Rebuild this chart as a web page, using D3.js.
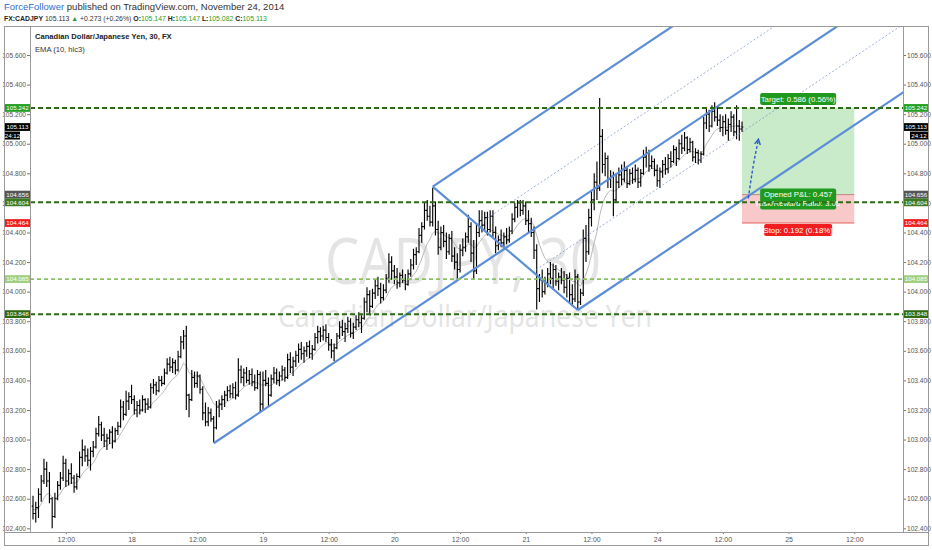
<!DOCTYPE html>
<html><head><meta charset="utf-8">
<script src="https://cdn.jsdelivr.net/npm/d3@7"></script>
<style>
body{margin:0;background:#fff;}
svg{display:block;font-family:"Liberation Sans Narrow","Arial Narrow","Liberation Sans",sans-serif;}
</style></head><body>
<svg id="c" width="932" height="550"></svg>
<script>
// ---------- DATA: 30-minute OHLC bars [open, high, low, close] ----------
const nov17 = [
[102.55,102.62,102.46,102.50],[102.50,102.58,102.44,102.54],[102.54,102.67,102.47,102.63],[102.63,102.76,102.58,102.72],
[102.72,102.87,102.70,102.80],[102.80,102.85,102.68,102.72],[102.72,102.78,102.57,102.60],[102.60,102.61,102.40,102.48],
[102.48,102.64,102.47,102.60],[102.60,102.72,102.59,102.69],[102.69,102.78,102.66,102.74],[102.74,102.89,102.72,102.84],
[102.84,102.87,102.68,102.72],[102.72,102.80,102.69,102.77],[102.77,102.84,102.70,102.74],[102.74,102.76,102.64,102.68],
[102.68,102.77,102.66,102.75],[102.75,102.92,102.74,102.88],[102.88,103.00,102.82,102.93],[102.93,102.96,102.85,102.89],
[102.89,102.94,102.82,102.86],[102.86,102.95,102.79,102.92],[102.92,102.99,102.88,102.95],[102.95,103.08,102.94,103.04],
[103.04,103.16,103.02,103.10],[103.10,103.12,102.99,103.03],[103.03,103.08,102.95,102.99],[102.99,103.04,102.93,103.01],
[103.01,103.07,102.97,103.05],[103.05,103.09,102.94,102.99],[102.99,103.08,102.98,103.06],[103.06,103.12,103.03,103.09],
[103.09,103.27,103.08,103.22],[103.22,103.26,103.13,103.17],[103.17,103.33,103.16,103.26],[103.26,103.32,103.20,103.29]];
const nov18 = [
[103.29,103.37,103.24,103.27],[103.27,103.30,103.17,103.20],[103.20,103.26,103.15,103.23],[103.23,103.27,103.17,103.20],
[103.20,103.30,103.19,103.27],[103.27,103.28,103.18,103.24],[103.24,103.28,103.20,103.22],[103.22,103.38,103.21,103.35],
[103.35,103.41,103.31,103.37],[103.37,103.39,103.30,103.33],[103.33,103.43,103.32,103.40],[103.40,103.43,103.36,103.38],
[103.38,103.48,103.37,103.45],[103.45,103.55,103.44,103.51],[103.51,103.56,103.46,103.49],[103.49,103.55,103.45,103.52],
[103.52,103.54,103.44,103.47],[103.47,103.60,103.46,103.56],[103.56,103.70,103.55,103.66],[103.66,103.74,103.61,103.70],
[103.70,103.77,103.20,103.30],[103.30,103.31,103.15,103.27],[103.27,103.47,103.26,103.42],[103.42,103.46,103.35,103.38],
[103.38,103.46,103.35,103.43],[103.43,103.44,103.31,103.34],[103.34,103.36,103.13,103.18],[103.18,103.25,103.09,103.12],
[103.12,103.22,103.09,103.18],[103.18,103.21,103.12,103.14],[103.14,103.16,102.98,103.08],[103.08,103.26,103.07,103.22],
[103.22,103.27,103.15,103.24],[103.24,103.30,103.20,103.27],[103.27,103.33,103.22,103.30],[103.30,103.36,103.26,103.33],
[103.33,103.37,103.28,103.31],[103.31,103.38,103.28,103.35],[103.35,103.39,103.27,103.30],[103.30,103.55,103.29,103.47],
[103.47,103.50,103.38,103.42],[103.42,103.48,103.36,103.45],[103.45,103.49,103.38,103.40],[103.40,103.47,103.37,103.44],
[103.44,103.48,103.36,103.39],[103.39,103.44,103.33,103.35],[103.35,103.47,103.34,103.44],[103.44,103.46,103.18,103.24]];
const nov19 = [
[103.24,103.46,103.20,103.40],[103.40,103.47,103.36,103.38],[103.38,103.42,103.22,103.30],[103.30,103.44,103.29,103.41],
[103.41,103.49,103.38,103.45],[103.45,103.48,103.37,103.40],[103.40,103.46,103.36,103.43],[103.43,103.50,103.40,103.47],
[103.47,103.49,103.39,103.42],[103.42,103.58,103.41,103.54],[103.54,103.59,103.45,103.49],[103.49,103.56,103.43,103.53],
[103.53,103.60,103.49,103.57],[103.57,103.65,103.52,103.61],[103.61,103.66,103.54,103.58],[103.58,103.63,103.52,103.60],
[103.60,103.66,103.56,103.63],[103.63,103.67,103.55,103.58],[103.58,103.64,103.54,103.61],[103.61,103.72,103.60,103.69],
[103.69,103.77,103.65,103.73],[103.73,103.76,103.66,103.70],[103.70,103.77,103.67,103.74],[103.74,103.78,103.66,103.69],
[103.69,103.72,103.60,103.64],[103.64,103.68,103.55,103.60],[103.60,103.65,103.53,103.62],[103.62,103.72,103.61,103.70],
[103.70,103.80,103.68,103.76],[103.76,103.81,103.70,103.73],[103.73,103.79,103.66,103.75],[103.75,103.83,103.72,103.80],
[103.80,103.82,103.69,103.72],[103.72,103.79,103.68,103.76],[103.76,103.84,103.74,103.81],[103.81,103.86,103.76,103.79],
[103.79,103.84,103.72,103.82],[103.82,103.96,103.81,103.93],[103.93,104.03,103.86,103.98],[103.98,104.01,103.84,103.90],
[103.90,104.02,103.89,103.99],[103.99,104.08,103.95,104.04],[104.04,104.10,103.97,104.02],[104.02,104.06,103.92,103.96],
[103.96,104.05,103.94,104.01],[104.01,104.12,103.99,104.09],[104.09,104.26,104.06,104.20],[104.20,104.24,104.08,104.14]];
const nov20 = [
[104.14,104.18,104.05,104.10],[104.10,104.16,104.02,104.06],[104.06,104.13,104.03,104.11],[104.11,104.15,104.06,104.08],
[104.08,104.12,104.01,104.05],[104.05,104.15,104.04,104.12],[104.12,104.22,104.10,104.18],[104.18,104.29,104.15,104.25],
[104.25,104.30,104.18,104.27],[104.27,104.43,104.26,104.38],[104.38,104.47,104.33,104.44],[104.44,104.60,104.42,104.55],
[104.55,104.62,104.48,104.51],[104.51,104.58,104.44,104.47],[104.47,104.70,104.44,104.58],[104.58,104.61,104.38,104.42],
[104.42,104.48,104.25,104.30],[104.30,104.44,104.28,104.40],[104.40,104.45,104.30,104.34],[104.34,104.40,104.22,104.27],
[104.27,104.39,104.25,104.36],[104.36,104.41,104.20,104.24],[104.24,104.30,104.15,104.20],[104.20,104.26,104.08,104.15],
[104.15,104.32,104.13,104.28],[104.28,104.36,104.24,104.30],[104.30,104.40,104.27,104.37],[104.37,104.52,104.33,104.44],
[104.44,104.47,104.20,104.26],[104.26,104.35,104.08,104.14],[104.14,104.46,104.12,104.40],[104.40,104.55,104.37,104.48],
[104.48,104.55,104.40,104.45],[104.45,104.54,104.41,104.50],[104.50,104.54,104.38,104.42],[104.42,104.55,104.40,104.51],
[104.51,104.55,104.37,104.40],[104.40,104.44,104.26,104.31],[104.31,104.38,104.28,104.35],[104.35,104.42,104.30,104.33],
[104.33,104.40,104.29,104.37],[104.37,104.43,104.32,104.35],[104.35,104.44,104.33,104.41],[104.41,104.53,104.39,104.49],
[104.49,104.60,104.47,104.57],[104.57,104.62,104.50,104.60],[104.60,104.62,104.51,104.55],[104.55,104.62,104.52,104.58]];
const nov21 = [
[104.58,104.61,104.45,104.48],[104.48,104.55,104.40,104.46],[104.46,104.50,104.37,104.40],[104.40,104.44,104.22,104.28],
[104.28,104.32,103.88,104.02],[104.02,104.12,103.93,104.08],[104.08,104.15,103.96,104.00],[104.00,104.10,103.98,104.06],
[104.06,104.16,104.03,104.12],[104.12,104.20,104.05,104.09],[104.09,104.19,104.02,104.15],[104.15,104.18,104.04,104.07],
[104.07,104.13,104.01,104.10],[104.10,104.16,104.05,104.08],[104.08,104.14,103.99,104.03],[104.03,104.12,103.96,104.09],
[104.09,104.13,103.93,103.98],[103.98,104.05,103.90,103.95],[103.95,104.15,103.93,104.10],[104.10,104.12,103.88,103.93],
[103.93,104.02,103.91,103.99],[103.99,104.42,103.97,104.36],[104.36,104.45,104.20,104.27],[104.27,104.56,104.25,104.50],
[104.50,104.68,104.44,104.62],[104.62,104.80,104.55,104.74],[104.74,104.88,104.62,104.70],[104.70,105.31,104.68,105.05],
[105.05,105.10,104.80,104.86],[104.86,104.94,104.78,104.90],[104.90,104.92,104.70,104.76],[104.76,104.82,104.70,104.78],
[104.78,104.81,104.51,104.62],[104.62,104.80,104.60,104.74],[104.74,104.84,104.70,104.79],[104.79,104.86,104.72,104.76],
[104.76,104.88,104.74,104.82],[104.82,104.85,104.70,104.73],[104.73,104.83,104.72,104.80],[104.80,104.84,104.73,104.76],
[104.76,104.86,104.74,104.82],[104.82,104.84,104.70,104.74],[104.74,104.83,104.71,104.80],[104.80,104.96,104.79,104.91],
[104.91,104.98,104.84,104.94],[104.94,104.96,104.81,104.85],[104.85,104.92,104.83,104.88],[104.88,104.90,104.78,104.82]];
const nov24 = [
[104.82,104.86,104.71,104.75],[104.75,104.84,104.70,104.81],[104.81,104.89,104.77,104.86],[104.86,104.91,104.79,104.83],
[104.83,104.93,104.80,104.90],[104.90,104.95,104.84,104.88],[104.88,104.99,104.87,104.96],[104.96,104.98,104.85,104.90],
[104.90,105.03,104.89,105.00],[105.00,105.06,104.93,104.97],[104.97,105.08,104.95,105.04],[105.04,105.05,104.93,104.96],
[104.96,105.04,104.94,105.01],[105.01,105.02,104.88,104.91],[104.91,104.97,104.87,104.94],[104.94,104.96,104.86,104.89],
[104.89,104.95,104.87,104.93],[104.93,105.18,104.92,105.14],[105.14,105.24,105.10,105.20],[105.20,105.23,105.08,105.12],
[105.12,105.26,105.11,105.22],[105.22,105.28,105.15,105.18],[105.18,105.25,105.12,105.16],[105.16,105.20,105.08,105.11],
[105.11,105.19,105.05,105.15],[105.15,105.20,105.06,105.09],[105.09,105.17,105.02,105.13],[105.13,105.22,105.08,105.18],
[105.18,105.20,105.05,105.08],[105.08,105.26,105.03,105.12],[105.12,105.16,105.02,105.10],[105.10,105.15,105.08,105.113]];

const timeTickIdx = [12,36,60,84,108,132,156,180,204,228,252,276,300];
const timeTickLabels = ["12:00","18","12:00","19","12:00","20","12:00","21","12:00","24","12:00","25","12:00"];
const priceTicks = [102.4,102.6,102.8,103.0,103.2,103.4,103.6,103.8,104.0,104.2,104.4,104.6,104.8,105.0,105.2,105.4,105.6];

const levelsDark = [105.242, 104.604, 103.848];
const levelsLight = [104.085];
const markValues = [105.242, 105.113, 104.656, 104.604, 104.464, 104.085, 103.848];
const countdown = "24:12";

const trade = {entry:104.656, target:105.242, stop:104.464, startIdx:259, endIdx:300};
const tradeTexts = ["Target: 0.586 (0.56%)", "Opened P&L: 0.457", "Risk/Reward Ratio: 3.05", "Stop: 0.192 (0.18%)"];
const pitchfork = [[66,102.975],[146,104.71],[199,103.876]];
const forkLevels = [0.382];
const arrowPts = [[261.3,104.63],[263.0,104.84],[265.0,105.03]];

const header1 = ["ForceFollower", " published on TradingView.com, November 24, 2014"];
const header2 = ["FX:CADJPY", " 105.113 ", "\u25B2", " +0.273 (+0.26%) ", "O:", "105.147", " H:", "105.147", " L:", "105.082", " C:", "105.113"];
const legend = ["Canadian Dollar/Japanese Yen, 30, FX", "EMA (10, hlc3)"];
const watermark = ["CADJPY, 30", "Canadian Dollar/Japanese Yen"];

// ---------- BUILD ----------
const bars = [...nov17, ...nov18, ...nov19, ...nov20, ...nov21, ...nov24]
  .map((d,i)=>({i, o:d[0], h:d[1], l:d[2], c:d[3]}));
// EMA(10) of hlc3
const ema = []; { const k = 2/11; let e = null;
  bars.forEach(b=>{ const s=(b.h+b.l+b.c)/3; e = e===null ? s : e + k*(s-e); ema.push({i:b.i, v:e}); }); }

const plot = {l:30, r:903, t:26, b:532};
const x = d3.scaleLinear().domain([-1.1, 317.8]).range([plot.l, plot.r]);
const y = d3.scaleLinear().domain([102.4, 105.6]).range([528.3, 55]);

const svg = d3.select('#c');
svg.append('defs').append('clipPath').attr('id','pc').append('rect')
  .attr('x',plot.l).attr('y',plot.t).attr('width',plot.r-plot.l).attr('height',plot.b-plot.t);
const g = svg.append('g').attr('clip-path','url(#pc)');

// watermark
g.append('text').attr('x',463).attr('y',284).attr('text-anchor','middle').attr('font-size',64)
  .attr('fill','#e4e4e4').attr('textLength',276).attr('lengthAdjust','spacingAndGlyphs')
  .style('font-family','"Open Sans",sans-serif').text(watermark[0]);
g.append('text').attr('x',465).attr('y',327).attr('text-anchor','middle').attr('font-size',31)
  .attr('fill','#e4e4e4').attr('textLength',374).attr('lengthAdjust','spacingAndGlyphs')
  .style('font-family','"Open Sans",sans-serif').text(watermark[1]);

// trade zones
const tx0 = x(trade.startIdx), tx1 = x(trade.endIdx);
g.append('rect').attr('x',tx0).attr('width',tx1-tx0).attr('y',y(trade.target)).attr('height',y(trade.entry)-y(trade.target)).attr('fill','#c9ebc9');
g.append('rect').attr('x',tx0).attr('width',tx1-tx0).attr('y',y(trade.entry)).attr('height',y(trade.stop)-y(trade.entry)).attr('fill','#f9c8c8');
g.append('line').attr('x1',tx0).attr('x2',tx1).attr('y1',y(trade.entry)).attr('y2',y(trade.entry)).attr('stroke','#b07070').attr('stroke-width',0.8);
g.append('line').attr('x1',tx0).attr('x2',tx1).attr('y1',y(trade.stop)).attr('y2',y(trade.stop)).attr('stroke','#e04040').attr('stroke-width',0.8);

// EMA
g.append('path').datum(ema).attr('fill','none').attr('stroke','#a8a8a8').attr('stroke-width',0.8)
  .attr('d', d3.line().x(d=>x(d.i)).y(d=>y(d.v)));

// OHLC bars
g.append('path').attr('fill','none').attr('stroke','#000').attr('stroke-width',1.15)
  .attr('d', bars.map(b=>{ const X=x(b.i); return `M${X},${y(b.h)}V${y(b.l)}M${X-1.3},${y(b.o)}H${X}M${X},${y(b.c)}H${X+1.3}`; }).join(''));

// pitchfork
const P = pitchfork.map(([i,v])=>[x(i), y(v)]);
const M = [(P[1][0]+P[2][0])/2, (P[1][1]+P[2][1])/2];
const dv = [M[0]-P[0][0], M[1]-P[0][1]];
const ext = p=>[p[0]+dv[0]*6, p[1]+dv[1]*6];
const lineGen = d3.line();
[[P[0],ext(P[0])],[P[1],ext(P[1])],[P[2],ext(P[2])],[P[1],P[2]]].forEach(seg=>{
  g.append('path').attr('d',lineGen(seg)).attr('stroke','#5b8ed6').attr('stroke-width',2.2).attr('fill','none');
});
forkLevels.forEach(f=>{
  [P[1],P[2]].forEach(Q=>{
    const S=[M[0]+f*(Q[0]-M[0]), M[1]+f*(Q[1]-M[1])];
    g.append('path').attr('d',lineGen([S,ext(S)])).attr('stroke','#6f8fc9').attr('stroke-width',0.7)
      .attr('stroke-dasharray','2,2').attr('fill','none');
  });
});

// trade labels
function labelBox(cx, cy, w, h, fill, lines){
  g.append('rect').attr('x',cx-w/2).attr('y',cy-h/2).attr('width',w).attr('height',h).attr('rx',2).attr('fill',fill);
  lines.forEach((t,k)=>{
    g.append('text').attr('x',cx).attr('y',cy-h/2+8.8+k*9).attr('text-anchor','middle').attr('font-size',7.8)
      .attr('fill','#fff').text(t);
  });
}
const tcx = (tx0+tx1)/2;
labelBox(tcx, y(trade.target)-9, 76, 12, '#1f9a1f', [tradeTexts[0]]);
labelBox(tcx, y(trade.entry)+4.5, 76, 21, '#1f9a1f', [tradeTexts[1], tradeTexts[2]]);
labelBox(tcx, y(trade.stop)+7, 68, 12, '#f01e1e', [tradeTexts[3]]);

// horizontal levels
levelsDark.forEach(v=>{
  g.append('line').attr('x1',plot.l).attr('x2',plot.r).attr('y1',y(v)).attr('y2',y(v))
    .attr('stroke','#2f6b12').attr('stroke-width',2).attr('stroke-dasharray','5,3');
});
levelsLight.forEach(v=>{
  g.append('line').attr('x1',plot.l).attr('x2',plot.r).attr('y1',y(v)).attr('y2',y(v))
    .attr('stroke','#8bbf66').attr('stroke-width',1.6).attr('stroke-dasharray','4,3');
});

// arrow
const AP = arrowPts.map(([i,v])=>[x(i),y(v)]);
g.append('path').attr('d', d3.line().curve(d3.curveNatural)(AP)).attr('fill','none')
  .attr('stroke','#2c5cc5').attr('stroke-width',1.4).attr('stroke-dasharray','3,2');
{ const a=AP[AP.length-1], b=AP[AP.length-2]; const ang=Math.atan2(a[1]-b[1], a[0]-b[0]);
  const L=6, sp=0.5;
  const p1=[a[0]-L*Math.cos(ang-sp), a[1]-L*Math.sin(ang-sp)], p2=[a[0]-L*Math.cos(ang+sp), a[1]-L*Math.sin(ang+sp)];
  g.append('path').attr('d', d3.line()([p1,a,p2])).attr('fill','none').attr('stroke','#2c5cc5').attr('stroke-width',1.4); }

// legend
svg.append('text').attr('x',35).attr('y',39).attr('font-size',7.6).attr('font-weight','bold').attr('fill','#222').text(legend[0]);
svg.append('text').attr('x',35).attr('y',52).attr('font-size',7.6).attr('fill','#333').text(legend[1]);

// axes
const fmt = d3.format('.3f');
const axL = svg.append('g').attr('transform',`translate(${plot.l},0)`)
  .call(d3.axisLeft(y).tickValues(priceTicks).tickFormat(fmt).tickSize(3).tickPadding(1));
const axR = svg.append('g').attr('transform',`translate(${plot.r},0)`)
  .call(d3.axisRight(y).tickValues(priceTicks).tickFormat(fmt).tickSize(3).tickPadding(1));
const axB = svg.append('g').attr('transform',`translate(0,${plot.b})`)
  .call(d3.axisBottom(x).tickValues(timeTickIdx).tickFormat((d,k)=>timeTickLabels[k]).tickSize(2).tickPadding(3));
[axL,axR].forEach(a=>{ a.select('.domain').remove();
  a.selectAll('text').attr('font-size',6.6).attr('fill','#555').style('font-family','"Liberation Sans Narrow","Arial Narrow",sans-serif');
  a.selectAll('line').attr('stroke','#777'); });
axB.select('.domain').remove();
axB.selectAll('text').attr('font-size',7).attr('fill','#555').style('font-family','"Liberation Sans Narrow","Arial Narrow",sans-serif');
axB.selectAll('line').attr('stroke','#777');

// frame
svg.append('rect').attr('x',4.5).attr('y',26.5).attr('width',924).attr('height',519).attr('fill','none').attr('stroke','#999');
svg.append('line').attr('x1',plot.l+0.5).attr('x2',plot.l+0.5).attr('y1',26).attr('y2',plot.b).attr('stroke','#999');
svg.append('line').attr('x1',plot.r+0.5).attr('x2',plot.r+0.5).attr('y1',26).attr('y2',plot.b).attr('stroke','#999');
svg.append('line').attr('x1',4).attr('x2',929).attr('y1',plot.b+0.5).attr('y2',plot.b+0.5).attr('stroke','#999');

// price marks on axes
const markFill = ['#25a025','#000','#555','#3b7a20','#f01e1e','#9fcf80','#2f6b12'];
markValues.forEach((v,k)=>{
  [[5,plot.l],[plot.r+1,928]].forEach(([a,b])=>{
    svg.append('rect').attr('x',a).attr('y',y(v)-3.9).attr('width',b-a).attr('height',7.8).attr('fill',markFill[k]);
    svg.append('text').attr('x',(a+b)/2).attr('y',y(v)+2.2).attr('text-anchor','middle').attr('font-size',6.2)
      .attr('fill','#fff').text(fmt(v));
  });
});
[[5,20],[910,928]].forEach(([a,b])=>{
  const yy = y(markValues[1])+4.5;
  svg.append('rect').attr('x',a).attr('y',yy).attr('width',b-a).attr('height',8).attr('fill','#000');
  svg.append('text').attr('x',(a+b)/2).attr('y',yy+6.3).attr('text-anchor','middle').attr('font-size',6.2).attr('fill','#fff').text(countdown);
});

// header
const h1 = svg.append('text').attr('x',4).attr('y',10).attr('font-size',9.5);
h1.append('tspan').attr('fill','#2f6fce').text(header1[0]);
h1.append('tspan').attr('fill','#333').text(header1[1]);
const h2 = svg.append('text').attr('x',4).attr('y',20.5).attr('font-size',6.9);
const h2fill = ['#222','#333','#2a9d2a','#333','#222','#2a9d2a','#222','#2a9d2a','#222','#2a9d2a','#222','#2a9d2a'];
const h2bold = [1,0,0,0,1,0,1,0,1,0,1,0];
header2.forEach((t,k)=>h2.append('tspan').attr('fill',h2fill[k]).attr('font-weight',h2bold[k]?'bold':'normal').text(t));
</script>
</body></html>
